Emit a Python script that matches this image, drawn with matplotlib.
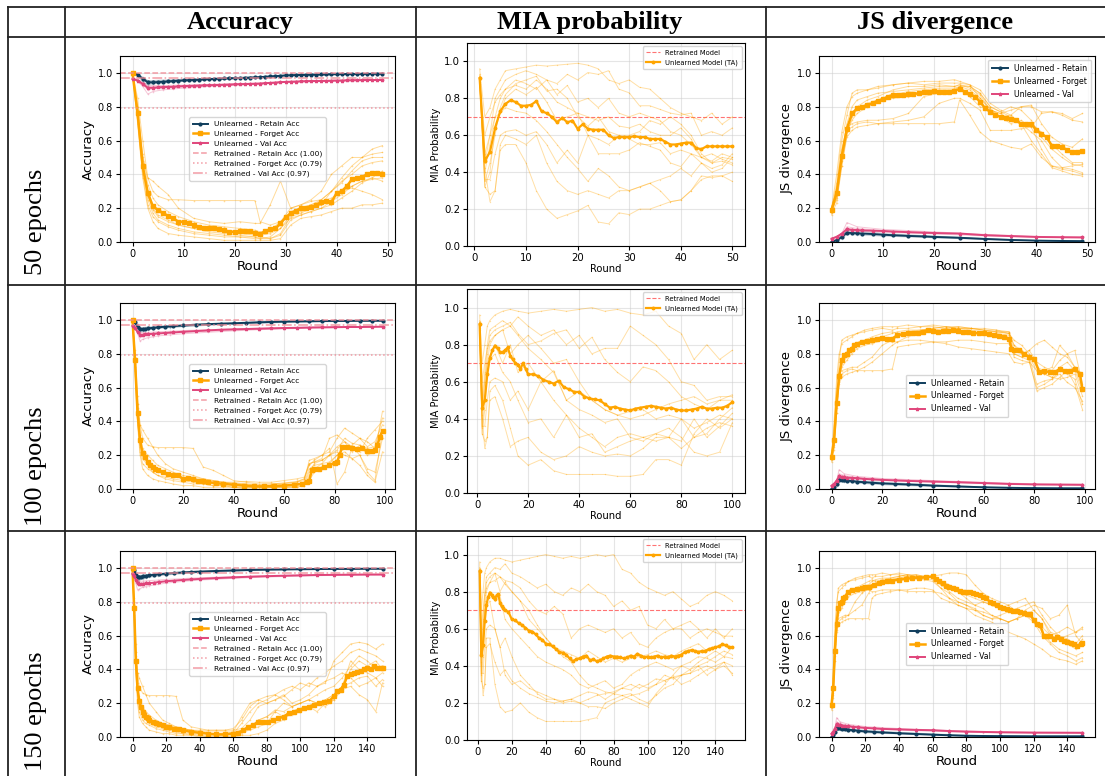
import matplotlib
matplotlib.use("Agg")
import matplotlib.pyplot as plt
from matplotlib.lines import Line2D

W, H = 1105, 776

RETAIN = "#0f3d5c"
FORGET = "#ffa500"
VAL = "#e0457b"
RETRAINED = "#f08b96"
MIA_REF = "#ff5a5a"

col_titles = ["Accuracy", "MIA probability", "JS divergence"]
row_titles = ["50 epochs", "100 epochs", "150 epochs"]

# retrained model reference values
retrained_acc = [1.00, 0.79, 0.967]
retrained_mia = 0.7

# ---------------- Accuracy, 50 epochs ----------------
acc50_rounds = list(range(50))
acc50_retain = [1.0, 0.99, 0.965, 0.945, 0.944, 0.946, 0.948, 0.95, 0.952, 0.954,
                0.956, 0.957, 0.958, 0.96, 0.962, 0.963, 0.964, 0.966, 0.967, 0.968,
                0.969, 0.97, 0.971, 0.972, 0.973, 0.975, 0.977, 0.979, 0.981, 0.983,
                0.985, 0.986, 0.987, 0.988, 0.989, 0.99, 0.99, 0.991, 0.991, 0.992,
                0.992, 0.993, 0.993, 0.993, 0.994, 0.994, 0.994, 0.995, 0.995, 0.995]
acc50_val = [0.965, 0.955, 0.935, 0.912, 0.912, 0.914, 0.916, 0.917, 0.918, 0.92,
             0.922, 0.923, 0.924, 0.925, 0.926, 0.927, 0.928, 0.929, 0.93, 0.931,
             0.932, 0.933, 0.934, 0.935, 0.936, 0.937, 0.939, 0.941, 0.943, 0.945,
             0.947, 0.948, 0.949, 0.95, 0.951, 0.952, 0.952, 0.953, 0.953, 0.954,
             0.955, 0.955, 0.956, 0.956, 0.957, 0.957, 0.958, 0.958, 0.958, 0.958]
acc50_forget = [1.0, 0.76, 0.45, 0.29, 0.21, 0.19, 0.17, 0.155, 0.14, 0.12,
                0.12, 0.11, 0.10, 0.09, 0.085, 0.085, 0.08, 0.075, 0.07, 0.06,
                0.06, 0.065, 0.065, 0.065, 0.055, 0.045, 0.065, 0.075, 0.08, 0.11,
                0.145, 0.17, 0.185, 0.20, 0.20, 0.205, 0.22, 0.235, 0.24, 0.235,
                0.29, 0.30, 0.33, 0.37, 0.38, 0.385, 0.40, 0.41, 0.41, 0.405]
acc50_band_rounds = [0, 1, 2, 3, 4, 6, 8, 10, 15, 20, 25, 30, 40, 49]
acc50_retain_runs = [
    [1.0, 0.98, 0.95, 0.93, 0.935, 0.94, 0.945, 0.95, 0.96, 0.965, 0.972, 0.983, 0.99, 0.994],
    [1.0, 0.995, 0.975, 0.955, 0.955, 0.958, 0.96, 0.963, 0.968, 0.973, 0.978, 0.987, 0.993, 0.996],
    [1.0, 0.985, 0.96, 0.94, 0.94, 0.944, 0.948, 0.952, 0.96, 0.967, 0.974, 0.984, 0.991, 0.995],
    [1.0, 0.99, 0.97, 0.95, 0.95, 0.952, 0.955, 0.958, 0.964, 0.97, 0.976, 0.986, 0.992, 0.995],
]
acc50_val_runs = [
    [0.965, 0.95, 0.92, 0.875, 0.89, 0.9, 0.905, 0.91, 0.92, 0.928, 0.934, 0.944, 0.952, 0.957],
    [0.965, 0.96, 0.945, 0.925, 0.925, 0.925, 0.927, 0.928, 0.932, 0.937, 0.94, 0.948, 0.957, 0.96],
    [0.965, 0.952, 0.93, 0.9, 0.905, 0.91, 0.913, 0.916, 0.924, 0.93, 0.936, 0.946, 0.954, 0.958],
    [0.965, 0.957, 0.94, 0.918, 0.918, 0.92, 0.922, 0.924, 0.929, 0.934, 0.938, 0.947, 0.955, 0.959],
]
acc50_run_rounds = [0, 1, 2, 3, 4, 5, 7, 9, 12, 15, 18, 21, 24, 25, 27, 29, 31, 33, 35, 37, 39, 41, 43, 45, 47, 49]
acc50_forget_runs = [
    [1.0, 0.85, 0.6, 0.38, 0.3, 0.27, 0.25, 0.25, 0.245, 0.245, 0.245, 0.245, 0.245, 0.12, 0.1, 0.12, 0.17, 0.2, 0.22, 0.24, 0.26, 0.3, 0.33, 0.36, 0.38, 0.36],
    [1.0, 0.8, 0.5, 0.38, 0.36, 0.33, 0.28, 0.2, 0.14, 0.12, 0.11, 0.12, 0.11, 0.11, 0.22, 0.36, 0.2, 0.22, 0.25, 0.3, 0.4, 0.45, 0.5, 0.5, 0.52, 0.53],
    [1.0, 0.72, 0.4, 0.22, 0.15, 0.12, 0.09, 0.07, 0.05, 0.04, 0.03, 0.03, 0.02, 0.02, 0.02, 0.05, 0.15, 0.17, 0.2, 0.22, 0.3, 0.38, 0.45, 0.5, 0.55, 0.57],
    [1.0, 0.7, 0.38, 0.2, 0.12, 0.08, 0.05, 0.04, 0.03, 0.02, 0.01, 0.01, 0.01, 0.01, 0.01, 0.02, 0.1, 0.14, 0.15, 0.16, 0.18, 0.2, 0.2, 0.22, 0.22, 0.23],
    [1.0, 0.78, 0.48, 0.3, 0.22, 0.18, 0.15, 0.12, 0.1, 0.08, 0.07, 0.06, 0.06, 0.05, 0.06, 0.1, 0.18, 0.2, 0.22, 0.25, 0.3, 0.35, 0.42, 0.48, 0.5, 0.5],
    [1.0, 0.75, 0.42, 0.25, 0.17, 0.13, 0.1, 0.08, 0.06, 0.05, 0.04, 0.03, 0.03, 0.03, 0.02, 0.04, 0.13, 0.16, 0.18, 0.2, 0.22, 0.26, 0.3, 0.35, 0.38, 0.42],
    [1.0, 0.74, 0.44, 0.27, 0.2, 0.16, 0.13, 0.1, 0.08, 0.07, 0.06, 0.05, 0.04, 0.04, 0.05, 0.08, 0.16, 0.18, 0.2, 0.22, 0.25, 0.3, 0.32, 0.3, 0.28, 0.25],
    [1.0, 0.8, 0.52, 0.34, 0.26, 0.22, 0.18, 0.15, 0.12, 0.1, 0.09, 0.08, 0.07, 0.06, 0.07, 0.12, 0.2, 0.22, 0.24, 0.25, 0.3, 0.36, 0.4, 0.45, 0.47, 0.48],
    [1.0, 0.76, 0.46, 0.28, 0.19, 0.15, 0.12, 0.1, 0.08, 0.06, 0.05, 0.04, 0.03, 0.02, 0.03, 0.08, 0.14, 0.16, 0.18, 0.2, 0.24, 0.28, 0.33, 0.36, 0.37, 0.38],
]

# ---------------- Accuracy, 100 epochs ----------------
acc100_mean_rounds = [0, 1, 2, 3, 4, 5, 6, 8, 10, 13, 16, 20, 25, 30, 35, 40, 45, 50, 55, 60, 65, 70, 75, 80, 85, 90, 95, 99]
acc100_retain = [1.0, 0.985, 0.96, 0.945, 0.945, 0.947, 0.95, 0.953, 0.956, 0.96, 0.963, 0.967, 0.972, 0.975,
                 0.978, 0.98, 0.983, 0.986, 0.988, 0.99, 0.991, 0.992, 0.993, 0.994, 0.994, 0.995, 0.995, 0.995]
acc100_val = [0.965, 0.95, 0.93, 0.912, 0.912, 0.914, 0.916, 0.918, 0.92, 0.923, 0.926, 0.93, 0.934, 0.938,
              0.942, 0.944, 0.946, 0.948, 0.95, 0.952, 0.953, 0.955, 0.956, 0.957, 0.958, 0.958, 0.959, 0.96]
acc100_forget_rounds = [0, 1, 2, 3, 4, 5, 6, 7, 8, 9, 10, 12, 14, 16, 18, 20, 22, 24, 26, 28, 30, 33, 36, 40, 44, 48,
                        52, 56, 60, 64, 67, 69, 70, 71, 72, 74, 76, 78, 80, 81, 82, 83, 85, 87, 89, 91, 93, 95, 96, 97, 98, 99]
acc100_forget = [1.0, 0.76, 0.45, 0.29, 0.21, 0.19, 0.16, 0.14, 0.13, 0.12, 0.11, 0.1, 0.09, 0.085, 0.08, 0.06,
                 0.065, 0.06, 0.05, 0.045, 0.04, 0.035, 0.03, 0.025, 0.02, 0.015, 0.015, 0.018, 0.02, 0.025, 0.03,
                 0.04, 0.05, 0.11, 0.12, 0.12, 0.13, 0.14, 0.155, 0.16, 0.2, 0.25, 0.25, 0.245, 0.235, 0.24,
                 0.225, 0.225, 0.23, 0.26, 0.31, 0.345]
acc100_band_rounds = [0, 1, 2, 3, 4, 6, 8, 10, 15, 20, 30, 40, 50, 60, 70, 80, 90, 99]
acc100_retain_runs = [
    [1.0, 0.98, 0.95, 0.93, 0.935, 0.94, 0.945, 0.95, 0.955, 0.96, 0.968, 0.975, 0.98, 0.985, 0.988, 0.99, 0.992, 0.994],
    [1.0, 0.995, 0.975, 0.955, 0.955, 0.958, 0.96, 0.963, 0.966, 0.97, 0.976, 0.982, 0.986, 0.99, 0.992, 0.994, 0.995, 0.996],
    [1.0, 0.985, 0.96, 0.94, 0.94, 0.944, 0.948, 0.952, 0.957, 0.962, 0.97, 0.977, 0.982, 0.987, 0.99, 0.992, 0.993, 0.995],
]
acc100_val_runs = [
    [0.965, 0.95, 0.92, 0.875, 0.885, 0.895, 0.9, 0.905, 0.912, 0.918, 0.927, 0.935, 0.942, 0.947, 0.951, 0.954, 0.957, 0.958],
    [0.965, 0.96, 0.945, 0.925, 0.925, 0.926, 0.928, 0.93, 0.933, 0.937, 0.942, 0.947, 0.951, 0.955, 0.957, 0.959, 0.96, 0.961],
    [0.965, 0.952, 0.93, 0.9, 0.905, 0.91, 0.913, 0.916, 0.92, 0.926, 0.934, 0.94, 0.946, 0.95, 0.954, 0.956, 0.958, 0.96],
]
acc100_run_rounds = [0, 1, 2, 3, 4, 6, 8, 10, 13, 16, 20, 24, 28, 32, 36, 40, 45, 50, 55, 60, 65, 68, 70, 72, 75, 78, 81, 84, 87, 90, 93, 96, 99]
acc100_forget_runs = [
    [1.0, 0.82, 0.55, 0.38, 0.3, 0.26, 0.25, 0.245, 0.245, 0.245, 0.245, 0.24, 0.13, 0.11, 0.08, 0.05, 0.04, 0.03, 0.03, 0.035, 0.045, 0.06, 0.14, 0.17, 0.2, 0.22, 0.3, 0.36, 0.33, 0.3, 0.25, 0.28, 0.38],
    [1.0, 0.78, 0.5, 0.38, 0.35, 0.3, 0.25, 0.2, 0.15, 0.12, 0.1, 0.08, 0.06, 0.05, 0.04, 0.03, 0.03, 0.02, 0.02, 0.03, 0.04, 0.05, 0.17, 0.18, 0.2, 0.24, 0.03, 0.1, 0.25, 0.2, 0.12, 0.1, 0.3],
    [1.0, 0.75, 0.42, 0.25, 0.18, 0.14, 0.1, 0.08, 0.07, 0.06, 0.05, 0.04, 0.03, 0.02, 0.02, 0.01, 0.01, 0.01, 0.01, 0.01, 0.02, 0.03, 0.1, 0.15, 0.17, 0.2, 0.25, 0.28, 0.22, 0.26, 0.2, 0.22, 0.46],
    [1.0, 0.7, 0.4, 0.22, 0.15, 0.12, 0.1, 0.08, 0.06, 0.05, 0.04, 0.03, 0.03, 0.02, 0.02, 0.01, 0.01, 0.01, 0.01, 0.01, 0.01, 0.02, 0.08, 0.12, 0.15, 0.2, 0.22, 0.2, 0.18, 0.2, 0.1, 0.05, 0.35],
    [1.0, 0.8, 0.5, 0.3, 0.2, 0.16, 0.14, 0.12, 0.1, 0.08, 0.06, 0.06, 0.05, 0.04, 0.04, 0.04, 0.045, 0.04, 0.04, 0.05, 0.06, 0.07, 0.15, 0.16, 0.18, 0.3, 0.32, 0.28, 0.25, 0.22, 0.3, 0.35, 0.4],
    [1.0, 0.74, 0.45, 0.28, 0.2, 0.15, 0.12, 0.1, 0.09, 0.08, 0.07, 0.05, 0.04, 0.03, 0.03, 0.03, 0.025, 0.02, 0.02, 0.02, 0.03, 0.04, 0.12, 0.14, 0.15, 0.16, 0.2, 0.24, 0.26, 0.3, 0.28, 0.24, 0.34],
    [1.0, 0.72, 0.38, 0.2, 0.12, 0.08, 0.06, 0.05, 0.04, 0.03, 0.02, 0.02, 0.01, 0.01, 0.01, 0.01, 0.0, 0.0, 0.01, 0.01, 0.01, 0.02, 0.05, 0.1, 0.12, 0.15, 0.2, 0.22, 0.18, 0.14, 0.08, 0.04, 0.22],
    [1.0, 0.78, 0.48, 0.32, 0.24, 0.2, 0.17, 0.14, 0.12, 0.1, 0.08, 0.07, 0.06, 0.05, 0.04, 0.035, 0.03, 0.025, 0.03, 0.035, 0.04, 0.06, 0.15, 0.16, 0.17, 0.2, 0.23, 0.3, 0.27, 0.26, 0.24, 0.25, 0.42],
]

# ---------------- Accuracy, 150 epochs ----------------
acc150_mean_rounds = [0, 1, 2, 3, 4, 5, 6, 8, 10, 13, 16, 20, 25, 30, 35, 40, 50, 60, 70, 80, 90, 100, 110, 120, 130, 140, 149]
acc150_retain = [1.0, 0.985, 0.96, 0.945, 0.945, 0.947, 0.95, 0.953, 0.956, 0.96, 0.963, 0.966, 0.97, 0.973,
                 0.976, 0.978, 0.982, 0.985, 0.988, 0.99, 0.991, 0.992, 0.993, 0.994, 0.994, 0.995, 0.995]
acc150_val = [0.965, 0.95, 0.93, 0.91, 0.905, 0.905, 0.906, 0.908, 0.91, 0.913, 0.917, 0.921, 0.925, 0.929,
              0.932, 0.935, 0.94, 0.944, 0.948, 0.951, 0.954, 0.956, 0.958, 0.959, 0.96, 0.961, 0.961]
acc150_forget_rounds = [0, 1, 2, 3, 4, 5, 6, 7, 8, 9, 10, 12, 14, 16, 18, 20, 22, 25, 28, 30, 35, 40, 45, 50, 55,
                        60, 63, 66, 69, 72, 75, 78, 81, 84, 87, 90, 93, 96, 99, 102, 105, 108, 111, 114, 117, 120,
                        122, 124, 126, 128, 130, 132, 134, 136, 138, 140, 142, 144, 146, 148, 149]
acc150_forget = [1.0, 0.76, 0.45, 0.29, 0.21, 0.18, 0.15, 0.13, 0.12, 0.11, 0.1, 0.09, 0.085, 0.075, 0.07, 0.06,
                 0.06, 0.05, 0.045, 0.04, 0.03, 0.025, 0.02, 0.015, 0.015, 0.02, 0.025, 0.04, 0.06, 0.07, 0.09,
                 0.09, 0.09, 0.1, 0.11, 0.12, 0.14, 0.15, 0.16, 0.17, 0.18, 0.19, 0.2, 0.205, 0.21, 0.24, 0.27,
                 0.28, 0.31, 0.36, 0.37, 0.38, 0.385, 0.39, 0.4, 0.41, 0.4, 0.42, 0.41, 0.41, 0.41]
acc150_band_rounds = [0, 1, 2, 3, 4, 6, 8, 10, 15, 20, 30, 40, 60, 80, 100, 120, 149]
acc150_retain_runs = [
    [1.0, 0.98, 0.95, 0.925, 0.93, 0.935, 0.94, 0.945, 0.952, 0.958, 0.966, 0.972, 0.98, 0.986, 0.99, 0.993, 0.994],
    [1.0, 0.995, 0.975, 0.955, 0.955, 0.958, 0.96, 0.962, 0.966, 0.97, 0.976, 0.981, 0.987, 0.991, 0.993, 0.995, 0.996],
    [1.0, 0.985, 0.96, 0.94, 0.94, 0.944, 0.948, 0.951, 0.957, 0.962, 0.97, 0.976, 0.983, 0.988, 0.991, 0.994, 0.995],
]
acc150_val_runs = [
    [0.965, 0.945, 0.91, 0.87, 0.875, 0.885, 0.89, 0.895, 0.902, 0.91, 0.92, 0.928, 0.938, 0.946, 0.952, 0.956, 0.958],
    [0.965, 0.96, 0.945, 0.925, 0.922, 0.922, 0.923, 0.925, 0.928, 0.932, 0.937, 0.942, 0.948, 0.953, 0.957, 0.96, 0.962],
    [0.965, 0.952, 0.93, 0.9, 0.9, 0.903, 0.906, 0.909, 0.914, 0.92, 0.928, 0.934, 0.943, 0.95, 0.954, 0.958, 0.96],
]
acc150_run_rounds = [0, 1, 2, 3, 4, 6, 8, 10, 14, 18, 22, 26, 30, 35, 40, 45, 50, 55, 60, 65, 70, 75, 80, 85, 90,
                     95, 100, 105, 110, 115, 120, 125, 130, 135, 140, 145, 149]
acc150_forget_runs = [
    [1.0, 0.82, 0.55, 0.38, 0.3, 0.26, 0.25, 0.245, 0.245, 0.245, 0.245, 0.24, 0.1, 0.06, 0.05, 0.04, 0.04, 0.04, 0.04, 0.05, 0.1, 0.18, 0.2, 0.22, 0.24, 0.28, 0.32, 0.3, 0.35, 0.38, 0.42, 0.45, 0.5, 0.52, 0.5, 0.48, 0.45],
    [1.0, 0.78, 0.5, 0.38, 0.35, 0.3, 0.25, 0.2, 0.15, 0.1, 0.08, 0.06, 0.05, 0.04, 0.03, 0.02, 0.02, 0.02, 0.03, 0.12, 0.2, 0.22, 0.2, 0.22, 0.25, 0.2, 0.22, 0.25, 0.3, 0.32, 0.45, 0.5, 0.55, 0.56, 0.55, 0.52, 0.55],
    [1.0, 0.75, 0.42, 0.25, 0.18, 0.12, 0.1, 0.08, 0.06, 0.05, 0.04, 0.03, 0.02, 0.02, 0.01, 0.01, 0.01, 0.01, 0.02, 0.08, 0.15, 0.2, 0.22, 0.25, 0.22, 0.18, 0.2, 0.22, 0.25, 0.28, 0.3, 0.35, 0.42, 0.48, 0.45, 0.4, 0.42],
    [1.0, 0.7, 0.4, 0.22, 0.15, 0.1, 0.08, 0.07, 0.05, 0.04, 0.03, 0.02, 0.02, 0.01, 0.01, 0.0, 0.0, 0.0, 0.01, 0.02, 0.05, 0.1, 0.12, 0.15, 0.12, 0.13, 0.15, 0.17, 0.2, 0.22, 0.25, 0.28, 0.3, 0.25, 0.22, 0.15, 0.32],
    [1.0, 0.8, 0.5, 0.3, 0.2, 0.16, 0.13, 0.11, 0.09, 0.07, 0.06, 0.05, 0.05, 0.04, 0.04, 0.04, 0.04, 0.04, 0.05, 0.1, 0.18, 0.22, 0.24, 0.25, 0.28, 0.3, 0.28, 0.32, 0.3, 0.33, 0.35, 0.38, 0.35, 0.3, 0.32, 0.35, 0.3],
    [1.0, 0.74, 0.45, 0.28, 0.2, 0.14, 0.11, 0.09, 0.07, 0.06, 0.05, 0.04, 0.03, 0.03, 0.02, 0.02, 0.02, 0.02, 0.02, 0.03, 0.04, 0.06, 0.08, 0.15, 0.2, 0.18, 0.2, 0.22, 0.2, 0.22, 0.25, 0.3, 0.45, 0.4, 0.38, 0.35, 0.38],
    [1.0, 0.72, 0.38, 0.2, 0.12, 0.08, 0.06, 0.04, 0.03, 0.02, 0.02, 0.01, 0.01, 0.01, 0.0, 0.0, 0.0, 0.0, 0.0, 0.01, 0.01, 0.02, 0.04, 0.08, 0.1, 0.15, 0.16, 0.18, 0.15, 0.2, 0.22, 0.3, 0.32, 0.35, 0.36, 0.3, 0.34],
    [1.0, 0.78, 0.48, 0.32, 0.24, 0.18, 0.15, 0.13, 0.1, 0.08, 0.07, 0.06, 0.05, 0.04, 0.035, 0.03, 0.03, 0.03, 0.03, 0.04, 0.06, 0.1, 0.12, 0.16, 0.15, 0.18, 0.2, 0.22, 0.2, 0.18, 0.22, 0.28, 0.4, 0.45, 0.42, 0.45, 0.4],
]

# ---------------- MIA, 50 epochs ----------------
mia50_rounds = list(range(1, 51))
mia50_mean = [0.91, 0.46, 0.51, 0.64, 0.73, 0.77, 0.79, 0.78, 0.76, 0.76,
              0.765, 0.785, 0.73, 0.72, 0.70, 0.67, 0.695, 0.67, 0.68, 0.635,
              0.66, 0.635, 0.63, 0.63, 0.63, 0.60, 0.585, 0.59, 0.59, 0.59,
              0.595, 0.59, 0.59, 0.58, 0.58, 0.58, 0.565, 0.55, 0.55, 0.555,
              0.56, 0.56, 0.53, 0.525, 0.54, 0.54, 0.54, 0.54, 0.54, 0.54]
mia50_run_rounds = [1, 2, 3, 4, 5, 6, 8, 10, 12, 14, 16, 18, 20, 22, 24, 26, 28, 30, 32, 34, 36, 38, 40, 42, 44, 46, 48, 50]
mia50_runs = [
    [0.96, 0.7, 0.75, 0.85, 0.9, 0.95, 0.96, 0.97, 0.98, 0.975, 0.98, 0.985, 0.99, 0.98, 0.96, 0.9, 0.88, 0.9, 0.86, 0.85, 0.8, 0.75, 0.72, 0.7, 0.68, 0.72, 0.66, 0.7],
    [0.92, 0.5, 0.6, 0.8, 0.85, 0.9, 0.93, 0.95, 0.93, 0.9, 0.88, 0.93, 0.9, 0.94, 0.93, 0.95, 0.85, 0.83, 0.76, 0.76, 0.74, 0.72, 0.71, 0.72, 0.6, 0.62, 0.6, 0.64],
    [0.9, 0.4, 0.55, 0.7, 0.8, 0.85, 0.9, 0.88, 0.85, 0.9, 0.82, 0.87, 0.78, 0.8, 0.75, 0.8, 0.72, 0.7, 0.72, 0.7, 0.68, 0.62, 0.6, 0.55, 0.48, 0.46, 0.5, 0.48],
    [0.88, 0.35, 0.45, 0.6, 0.75, 0.82, 0.88, 0.9, 0.92, 0.84, 0.85, 0.8, 0.7, 0.65, 0.7, 0.62, 0.6, 0.6, 0.62, 0.68, 0.66, 0.7, 0.66, 0.6, 0.5, 0.45, 0.46, 0.44],
    [0.91, 0.32, 0.4, 0.65, 0.72, 0.8, 0.85, 0.82, 0.86, 0.78, 0.68, 0.7, 0.72, 0.6, 0.58, 0.55, 0.6, 0.58, 0.55, 0.55, 0.56, 0.5, 0.52, 0.5, 0.48, 0.5, 0.47, 0.45],
    [0.9, 0.36, 0.36, 0.5, 0.6, 0.62, 0.63, 0.6, 0.62, 0.55, 0.45, 0.52, 0.45, 0.6, 0.5, 0.5, 0.5, 0.52, 0.56, 0.54, 0.52, 0.45, 0.43, 0.5, 0.45, 0.42, 0.44, 0.5],
    [0.92, 0.45, 0.6, 0.7, 0.72, 0.75, 0.73, 0.72, 0.68, 0.62, 0.55, 0.48, 0.42, 0.35, 0.42, 0.38, 0.32, 0.3, 0.32, 0.34, 0.36, 0.38, 0.42, 0.38, 0.45, 0.4, 0.42, 0.48],
    [0.9, 0.42, 0.24, 0.3, 0.55, 0.6, 0.58, 0.55, 0.6, 0.45, 0.35, 0.3, 0.28, 0.3, 0.28, 0.26, 0.3, 0.3, 0.32, 0.34, 0.3, 0.24, 0.25, 0.3, 0.36, 0.38, 0.38, 0.35],
    [0.93, 0.32, 0.28, 0.3, 0.52, 0.55, 0.55, 0.45, 0.3, 0.2, 0.15, 0.17, 0.19, 0.22, 0.13, 0.12, 0.18, 0.17, 0.2, 0.2, 0.22, 0.24, 0.25, 0.3, 0.38, 0.37, 0.38, 0.4],
    [0.89, 0.6, 0.7, 0.78, 0.82, 0.85, 0.87, 0.85, 0.9, 0.85, 0.78, 0.75, 0.72, 0.7, 0.68, 0.7, 0.65, 0.64, 0.66, 0.62, 0.6, 0.6, 0.64, 0.58, 0.48, 0.45, 0.48, 0.47],
]

# ---------------- MIA, 100 epochs ----------------
mia100_rounds = list(range(1, 21)) + list(range(22, 101, 2))
mia100_mean = [0.91, 0.46, 0.5, 0.64, 0.73, 0.77, 0.795, 0.78, 0.76, 0.76,
               0.77, 0.785, 0.74, 0.72, 0.70, 0.69, 0.67, 0.70, 0.67, 0.64,
               0.64, 0.63, 0.61, 0.60, 0.59, 0.605, 0.57, 0.56, 0.545, 0.545,
               0.52, 0.51, 0.505, 0.50, 0.48, 0.46, 0.465, 0.455, 0.45, 0.445,
               0.455, 0.46, 0.465, 0.47, 0.465, 0.46, 0.455, 0.46, 0.45, 0.445,
               0.445, 0.45, 0.455, 0.465, 0.455, 0.455, 0.46, 0.46, 0.47, 0.49]
mia100_run_rounds = [1, 2, 3, 4, 5, 7, 10, 13, 16, 20, 25, 30, 35, 40, 45, 50, 55, 60, 65, 70, 75, 80, 85, 90, 95, 100]
mia100_runs = [
    [0.96, 0.7, 0.8, 0.9, 0.93, 0.96, 0.98, 0.99, 0.98, 0.97, 0.98, 0.99, 0.98, 0.99, 1.0, 0.98, 0.99, 0.97, 0.96, 0.98, 0.9, 0.86, 0.72, 0.8, 0.72, 0.77],
    [0.92, 0.5, 0.65, 0.8, 0.88, 0.9, 0.93, 0.9, 0.95, 0.9, 0.85, 0.88, 0.8, 0.85, 0.75, 0.78, 0.78, 0.9, 0.85, 0.8, 0.72, 0.6, 0.58, 0.5, 0.52, 0.52],
    [0.9, 0.4, 0.6, 0.75, 0.85, 0.88, 0.9, 0.92, 0.86, 0.8, 0.82, 0.86, 0.88, 0.78, 0.84, 0.72, 0.65, 0.6, 0.68, 0.66, 0.6, 0.52, 0.48, 0.45, 0.5, 0.53],
    [0.88, 0.35, 0.5, 0.7, 0.8, 0.85, 0.88, 0.75, 0.8, 0.85, 0.78, 0.7, 0.72, 0.6, 0.5, 0.45, 0.42, 0.4, 0.42, 0.45, 0.48, 0.5, 0.52, 0.48, 0.5, 0.5],
    [0.91, 0.32, 0.45, 0.65, 0.72, 0.8, 0.7, 0.8, 0.65, 0.7, 0.6, 0.66, 0.5, 0.55, 0.5, 0.45, 0.42, 0.44, 0.45, 0.4, 0.42, 0.4, 0.3, 0.32, 0.4, 0.46],
    [0.9, 0.36, 0.36, 0.5, 0.6, 0.62, 0.6, 0.5, 0.55, 0.45, 0.6, 0.5, 0.42, 0.35, 0.3, 0.25, 0.3, 0.32, 0.3, 0.28, 0.3, 0.4, 0.35, 0.38, 0.42, 0.4],
    [0.92, 0.45, 0.6, 0.7, 0.72, 0.75, 0.65, 0.6, 0.5, 0.38, 0.4, 0.3, 0.42, 0.3, 0.32, 0.22, 0.25, 0.28, 0.3, 0.32, 0.35, 0.3, 0.22, 0.2, 0.22, 0.38],
    [0.9, 0.42, 0.24, 0.3, 0.55, 0.58, 0.5, 0.35, 0.2, 0.15, 0.18, 0.12, 0.1, 0.1, 0.1, 0.1, 0.09, 0.09, 0.1, 0.18, 0.18, 0.15, 0.32, 0.4, 0.35, 0.4],
    [0.93, 0.32, 0.28, 0.3, 0.5, 0.52, 0.4, 0.25, 0.28, 0.3, 0.22, 0.18, 0.2, 0.25, 0.22, 0.2, 0.21, 0.2, 0.24, 0.3, 0.3, 0.28, 0.4, 0.3, 0.36, 0.43],
    [0.89, 0.6, 0.7, 0.78, 0.82, 0.85, 0.88, 0.9, 0.85, 0.78, 0.72, 0.65, 0.5, 0.45, 0.42, 0.38, 0.4, 0.3, 0.28, 0.32, 0.3, 0.24, 0.3, 0.35, 0.38, 0.36],
]

# ---------------- MIA, 150 epochs ----------------
mia150_rounds = list(range(1, 17)) + list(range(18, 151, 2))
mia150_mean = [0.91, 0.46, 0.51, 0.64, 0.73, 0.77, 0.795, 0.78, 0.77, 0.76, 0.78, 0.785, 0.74, 0.72, 0.71, 0.70,
               0.69, 0.65, 0.645, 0.63, 0.62, 0.605, 0.59, 0.585, 0.57, 0.55,
               0.54, 0.52, 0.515, 0.505, 0.49, 0.475, 0.47, 0.46, 0.44, 0.425,
               0.435, 0.44, 0.45, 0.455, 0.43, 0.435, 0.425, 0.43, 0.44, 0.45,
               0.455, 0.45, 0.45, 0.445, 0.44, 0.445, 0.455, 0.45, 0.465, 0.455,
               0.445, 0.45, 0.445, 0.45, 0.455, 0.445, 0.45, 0.445, 0.455, 0.45,
               0.455, 0.46, 0.475, 0.48, 0.485, 0.48, 0.475, 0.48, 0.48, 0.49,
               0.495, 0.5, 0.505, 0.515, 0.51, 0.5, 0.5]
mia150_run_rounds = [1, 2, 3, 4, 5, 7, 10, 13, 16, 20, 25, 30, 35, 40, 45, 50, 55, 60, 65, 70, 75, 80, 85, 90,
                     95, 100, 105, 110, 115, 120, 125, 130, 135, 140, 145, 150]
mia150_runs = [
    [0.96, 0.7, 0.8, 0.9, 0.93, 0.96, 0.98, 0.98, 0.97, 0.96, 0.97, 0.98, 0.99, 1.0, 0.99, 0.98, 0.99, 0.98, 0.99, 1.0, 0.99, 1.0, 0.92, 0.9, 0.85, 0.82, 0.8, 0.78, 0.8, 0.76, 0.72, 0.74, 0.78, 0.8, 0.78, 0.75],
    [0.92, 0.5, 0.65, 0.8, 0.88, 0.9, 0.93, 0.92, 0.95, 0.9, 0.88, 0.85, 0.82, 0.84, 0.8, 0.78, 0.82, 0.8, 0.84, 0.8, 0.78, 0.72, 0.75, 0.7, 0.72, 0.62, 0.6, 0.65, 0.6, 0.6, 0.55, 0.58, 0.6, 0.58, 0.56, 0.56],
    [0.9, 0.4, 0.6, 0.75, 0.85, 0.88, 0.9, 0.88, 0.86, 0.85, 0.82, 0.75, 0.7, 0.68, 0.72, 0.68, 0.55, 0.6, 0.62, 0.6, 0.58, 0.6, 0.55, 0.58, 0.52, 0.5, 0.55, 0.58, 0.6, 0.62, 0.64, 0.6, 0.55, 0.6, 0.55, 0.6],
    [0.88, 0.35, 0.5, 0.7, 0.8, 0.85, 0.9, 0.8, 0.85, 0.8, 0.75, 0.7, 0.62, 0.55, 0.5, 0.48, 0.46, 0.44, 0.48, 0.45, 0.42, 0.44, 0.42, 0.44, 0.45, 0.46, 0.48, 0.46, 0.45, 0.48, 0.5, 0.52, 0.48, 0.5, 0.52, 0.5],
    [0.91, 0.32, 0.45, 0.65, 0.72, 0.8, 0.75, 0.78, 0.65, 0.6, 0.55, 0.5, 0.45, 0.42, 0.4, 0.38, 0.35, 0.3, 0.28, 0.3, 0.32, 0.28, 0.3, 0.35, 0.38, 0.4, 0.42, 0.4, 0.38, 0.4, 0.42, 0.45, 0.44, 0.42, 0.45, 0.44],
    [0.9, 0.36, 0.36, 0.5, 0.6, 0.62, 0.6, 0.5, 0.55, 0.45, 0.35, 0.3, 0.25, 0.22, 0.22, 0.21, 0.22, 0.24, 0.26, 0.25, 0.22, 0.25, 0.28, 0.27, 0.3, 0.28, 0.3, 0.35, 0.33, 0.35, 0.36, 0.4, 0.42, 0.45, 0.48, 0.46],
    [0.92, 0.45, 0.6, 0.7, 0.72, 0.75, 0.6, 0.5, 0.35, 0.3, 0.32, 0.28, 0.26, 0.24, 0.22, 0.2, 0.21, 0.2, 0.18, 0.18, 0.17, 0.2, 0.22, 0.24, 0.25, 0.27, 0.3, 0.32, 0.34, 0.35, 0.36, 0.38, 0.4, 0.38, 0.4, 0.36],
    [0.9, 0.42, 0.24, 0.3, 0.55, 0.55, 0.3, 0.18, 0.15, 0.16, 0.2, 0.15, 0.12, 0.1, 0.1, 0.1, 0.1, 0.1, 0.11, 0.12, 0.2, 0.22, 0.24, 0.25, 0.22, 0.2, 0.24, 0.28, 0.3, 0.35, 0.38, 0.4, 0.35, 0.38, 0.42, 0.4],
    [0.93, 0.32, 0.28, 0.3, 0.5, 0.52, 0.42, 0.35, 0.38, 0.32, 0.28, 0.25, 0.23, 0.21, 0.2, 0.21, 0.22, 0.2, 0.22, 0.24, 0.25, 0.26, 0.28, 0.3, 0.28, 0.3, 0.33, 0.32, 0.34, 0.3, 0.32, 0.35, 0.38, 0.4, 0.42, 0.35],
    [0.89, 0.6, 0.7, 0.78, 0.82, 0.85, 0.86, 0.88, 0.84, 0.8, 0.75, 0.65, 0.6, 0.55, 0.5, 0.45, 0.42, 0.35, 0.3, 0.28, 0.26, 0.25, 0.24, 0.22, 0.2, 0.18, 0.25, 0.3, 0.35, 0.4, 0.38, 0.42, 0.45, 0.48, 0.45, 0.5],
]

# ---------------- JS divergence, 50 epochs ----------------
js50_forget_rounds = list(range(50))
js50_forget = [0.19, 0.29, 0.51, 0.67, 0.76, 0.79, 0.80, 0.81, 0.82, 0.835,
               0.845, 0.86, 0.87, 0.87, 0.87, 0.875, 0.875, 0.88, 0.885, 0.89,
               0.895, 0.89, 0.89, 0.89, 0.895, 0.905, 0.89, 0.875, 0.86, 0.83,
               0.79, 0.77, 0.75, 0.74, 0.735, 0.73, 0.72, 0.70, 0.70, 0.70,
               0.66, 0.64, 0.62, 0.57, 0.565, 0.56, 0.545, 0.53, 0.535, 0.54]
js50_mean_rounds = [0, 1, 2, 3, 4, 5, 6, 8, 10, 12, 15, 18, 20, 25, 30, 35, 40, 45, 49]
js50_retain = [0.0, 0.01, 0.03, 0.055, 0.053, 0.051, 0.05, 0.047, 0.043, 0.04, 0.036, 0.033, 0.03, 0.025, 0.018, 0.012, 0.008, 0.006, 0.005]
js50_val = [0.02, 0.03, 0.05, 0.075, 0.073, 0.07, 0.069, 0.067, 0.065, 0.062, 0.058, 0.055, 0.053, 0.05, 0.04, 0.035, 0.03, 0.028, 0.027]
js50_band_rounds = [0, 2, 3, 5, 10, 20, 30, 40, 49]
js50_retain_runs = [
    [0.0, 0.02, 0.045, 0.042, 0.035, 0.025, 0.015, 0.007, 0.004],
    [0.0, 0.04, 0.07, 0.065, 0.05, 0.035, 0.02, 0.01, 0.006],
    [0.0, 0.03, 0.06, 0.055, 0.045, 0.03, 0.018, 0.008, 0.005],
]
js50_val_runs = [
    [0.02, 0.05, 0.115, 0.09, 0.075, 0.06, 0.045, 0.033, 0.03],
    [0.02, 0.04, 0.065, 0.062, 0.058, 0.048, 0.036, 0.028, 0.025],
    [0.02, 0.045, 0.09, 0.08, 0.068, 0.055, 0.042, 0.03, 0.027],
]
js50_run_rounds = [0, 1, 2, 3, 4, 5, 7, 9, 12, 15, 18, 21, 24, 25, 27, 29, 31, 33, 35, 37, 39, 41, 43, 45, 47, 49]
js50_forget_runs = [
    [0.17, 0.23, 0.45, 0.62, 0.66, 0.68, 0.69, 0.7, 0.7, 0.7, 0.7, 0.7, 0.71, 0.84, 0.75, 0.65, 0.6, 0.58, 0.56, 0.55, 0.58, 0.5, 0.45, 0.43, 0.42, 0.4],
    [0.2, 0.3, 0.55, 0.68, 0.7, 0.71, 0.72, 0.72, 0.73, 0.76, 0.86, 0.88, 0.9, 0.9, 0.86, 0.8, 0.78, 0.76, 0.78, 0.8, 0.8, 0.77, 0.77, 0.76, 0.73, 0.76],
    [0.18, 0.35, 0.6, 0.75, 0.88, 0.9, 0.9, 0.91, 0.93, 0.94, 0.95, 0.95, 0.96, 0.95, 0.93, 0.85, 0.78, 0.76, 0.72, 0.7, 0.6, 0.52, 0.44, 0.42, 0.4, 0.39],
    [0.2, 0.4, 0.65, 0.8, 0.86, 0.88, 0.9, 0.92, 0.93, 0.94, 0.93, 0.94, 0.94, 0.94, 0.93, 0.9, 0.82, 0.78, 0.75, 0.7, 0.65, 0.6, 0.5, 0.44, 0.43, 0.41],
    [0.16, 0.28, 0.5, 0.68, 0.75, 0.8, 0.84, 0.86, 0.9, 0.92, 0.92, 0.93, 0.92, 0.93, 0.92, 0.88, 0.8, 0.77, 0.8, 0.78, 0.72, 0.62, 0.55, 0.5, 0.46, 0.45],
    [0.19, 0.25, 0.45, 0.65, 0.72, 0.76, 0.8, 0.83, 0.85, 0.86, 0.88, 0.9, 0.9, 0.92, 0.9, 0.85, 0.79, 0.74, 0.75, 0.8, 0.81, 0.7, 0.62, 0.58, 0.56, 0.61],
    [0.2, 0.3, 0.5, 0.66, 0.68, 0.7, 0.71, 0.7, 0.71, 0.72, 0.74, 0.82, 0.85, 0.85, 0.82, 0.78, 0.66, 0.66, 0.66, 0.67, 0.68, 0.76, 0.77, 0.75, 0.72, 0.71],
    [0.18, 0.26, 0.48, 0.63, 0.74, 0.78, 0.82, 0.84, 0.87, 0.89, 0.9, 0.91, 0.91, 0.92, 0.92, 0.88, 0.8, 0.77, 0.74, 0.7, 0.7, 0.65, 0.58, 0.52, 0.47, 0.47],
    [0.2, 0.32, 0.52, 0.7, 0.8, 0.84, 0.86, 0.88, 0.89, 0.9, 0.91, 0.92, 0.92, 0.93, 0.91, 0.87, 0.78, 0.74, 0.7, 0.72, 0.68, 0.55, 0.45, 0.44, 0.45, 0.46],
]

# ---------------- JS divergence, 100 epochs ----------------
js100_forget_rounds = list(range(0, 11)) + list(range(12, 71, 2)) + [71, 72] + list(range(74, 99, 2)) + [99]
js100_forget = [0.19, 0.29, 0.51, 0.67, 0.76, 0.79, 0.80, 0.82, 0.83, 0.85, 0.86,
                0.87, 0.875, 0.88, 0.89, 0.895, 0.885, 0.89, 0.91, 0.915, 0.92,
                0.925, 0.925, 0.93, 0.94, 0.935, 0.93, 0.935, 0.935, 0.94, 0.935,
                0.93, 0.93, 0.925, 0.92, 0.92, 0.915, 0.91, 0.905, 0.90, 0.89,
                0.83, 0.825,
                0.82, 0.80, 0.78, 0.77, 0.69, 0.70, 0.69, 0.69, 0.71, 0.70, 0.70, 0.71, 0.68,
                0.59]
js100_mean_rounds = [0, 1, 2, 3, 4, 5, 6, 8, 10, 13, 16, 20, 25, 30, 35, 40, 50, 60, 70, 80, 90, 99]
js100_retain = [0.0, 0.01, 0.03, 0.055, 0.055, 0.052, 0.05, 0.047, 0.043, 0.04, 0.037, 0.033, 0.03, 0.027, 0.024, 0.02, 0.015, 0.01, 0.007, 0.005, 0.004, 0.004]
js100_val = [0.02, 0.03, 0.05, 0.075, 0.073, 0.07, 0.068, 0.066, 0.064, 0.06, 0.057, 0.054, 0.051, 0.048, 0.046, 0.044, 0.04, 0.035, 0.03, 0.027, 0.026, 0.025]
js100_band_rounds = [0, 2, 3, 5, 10, 20, 40, 60, 80, 99]
js100_retain_runs = [
    [0.0, 0.02, 0.045, 0.042, 0.035, 0.025, 0.015, 0.008, 0.004, 0.003],
    [0.0, 0.04, 0.07, 0.065, 0.05, 0.04, 0.025, 0.012, 0.007, 0.005],
    [0.0, 0.03, 0.06, 0.055, 0.045, 0.032, 0.02, 0.01, 0.006, 0.004],
]
js100_val_runs = [
    [0.02, 0.05, 0.115, 0.09, 0.075, 0.062, 0.05, 0.04, 0.03, 0.028],
    [0.02, 0.04, 0.065, 0.062, 0.058, 0.05, 0.04, 0.032, 0.025, 0.022],
    [0.02, 0.045, 0.09, 0.08, 0.068, 0.056, 0.046, 0.036, 0.028, 0.025],
]
js100_run_rounds = [0, 1, 2, 3, 4, 6, 8, 10, 13, 16, 20, 24, 26, 30, 35, 40, 45, 50, 55, 60, 65, 70, 72, 75, 78, 81, 84, 87, 90, 93, 96, 99]
js100_forget_runs = [
    [0.17, 0.23, 0.45, 0.62, 0.66, 0.68, 0.69, 0.7, 0.7, 0.7, 0.7, 0.71, 0.84, 0.85, 0.86, 0.87, 0.87, 0.88, 0.88, 0.87, 0.86, 0.86, 0.8, 0.78, 0.82, 0.86, 0.88, 0.84, 0.8, 0.78, 0.72, 0.6],
    [0.2, 0.3, 0.55, 0.68, 0.7, 0.71, 0.72, 0.72, 0.75, 0.78, 0.85, 0.88, 0.9, 0.92, 0.93, 0.94, 0.95, 0.94, 0.93, 0.92, 0.92, 0.91, 0.78, 0.76, 0.75, 0.6, 0.62, 0.65, 0.7, 0.68, 0.65, 0.5],
    [0.18, 0.35, 0.6, 0.75, 0.88, 0.9, 0.91, 0.92, 0.94, 0.95, 0.96, 0.96, 0.96, 0.97, 0.96, 0.97, 0.96, 0.96, 0.95, 0.95, 0.94, 0.92, 0.88, 0.85, 0.8, 0.72, 0.7, 0.72, 0.85, 0.8, 0.82, 0.62],
    [0.2, 0.4, 0.65, 0.8, 0.86, 0.88, 0.9, 0.92, 0.93, 0.94, 0.95, 0.94, 0.95, 0.95, 0.96, 0.96, 0.95, 0.96, 0.95, 0.94, 0.93, 0.93, 0.85, 0.82, 0.78, 0.7, 0.68, 0.66, 0.65, 0.66, 0.68, 0.55],
    [0.16, 0.28, 0.5, 0.68, 0.75, 0.8, 0.84, 0.86, 0.88, 0.9, 0.92, 0.93, 0.92, 0.93, 0.94, 0.95, 0.96, 0.95, 0.94, 0.93, 0.93, 0.92, 0.8, 0.78, 0.76, 0.58, 0.6, 0.62, 0.66, 0.7, 0.62, 0.47],
    [0.19, 0.25, 0.45, 0.65, 0.72, 0.76, 0.8, 0.83, 0.85, 0.86, 0.88, 0.87, 0.87, 0.88, 0.88, 0.87, 0.86, 0.84, 0.83, 0.82, 0.81, 0.8, 0.75, 0.74, 0.75, 0.7, 0.68, 0.66, 0.72, 0.75, 0.7, 0.58],
    [0.2, 0.3, 0.5, 0.66, 0.68, 0.7, 0.71, 0.7, 0.72, 0.75, 0.8, 0.85, 0.87, 0.9, 0.92, 0.93, 0.94, 0.95, 0.95, 0.94, 0.93, 0.92, 0.85, 0.8, 0.82, 0.75, 0.72, 0.7, 0.76, 0.8, 0.72, 0.68],
    [0.18, 0.26, 0.48, 0.63, 0.74, 0.78, 0.82, 0.85, 0.87, 0.89, 0.9, 0.92, 0.93, 0.94, 0.94, 0.95, 0.96, 0.95, 0.95, 0.94, 0.94, 0.93, 0.82, 0.8, 0.78, 0.62, 0.64, 0.65, 0.68, 0.63, 0.6, 0.52],
]

# ---------------- JS divergence, 150 epochs ----------------
js150_forget_rounds = [0, 1, 2, 3, 4, 5, 6, 7, 8, 10, 12, 15, 18, 20, 22, 25, 28, 30, 33, 36,
                       40, 44, 48, 52, 56, 60] + list(range(62, 149, 2)) + [149]
js150_forget = [0.19, 0.29, 0.51, 0.67, 0.76, 0.79, 0.80, 0.82, 0.83,
                0.86, 0.87, 0.875, 0.88, 0.885, 0.89, 0.9, 0.91, 0.915, 0.92, 0.925,
                0.93, 0.935, 0.94, 0.94, 0.945, 0.95,
                0.935, 0.92, 0.91, 0.895, 0.89, 0.88, 0.875, 0.865, 0.86, 0.86,
                0.855, 0.85, 0.845, 0.84, 0.83, 0.82, 0.8, 0.79, 0.78, 0.77,
                0.76, 0.755, 0.75, 0.745, 0.745, 0.74, 0.735, 0.73, 0.73, 0.69,
                0.67, 0.66, 0.6, 0.6, 0.6, 0.58, 0.59, 0.58, 0.57, 0.56,
                0.555, 0.55, 0.54, 0.55,
                0.555]
js150_mean_rounds = [0, 1, 2, 3, 4, 5, 6, 8, 10, 13, 16, 20, 25, 30, 40, 50, 60, 70, 80, 100, 120, 149]
js150_retain = [0.0, 0.01, 0.03, 0.055, 0.055, 0.052, 0.05, 0.047, 0.043, 0.04, 0.037, 0.033, 0.03, 0.027, 0.022, 0.018, 0.014, 0.01, 0.007, 0.005, 0.004, 0.004]
js150_val = [0.02, 0.03, 0.05, 0.075, 0.073, 0.07, 0.068, 0.066, 0.064, 0.06, 0.057, 0.054, 0.051, 0.048, 0.045, 0.042, 0.04, 0.035, 0.032, 0.028, 0.026, 0.025]
js150_band_rounds = [0, 2, 3, 5, 10, 20, 40, 60, 90, 120, 149]
js150_retain_runs = [
    [0.0, 0.02, 0.045, 0.042, 0.035, 0.025, 0.018, 0.01, 0.005, 0.003, 0.003],
    [0.0, 0.04, 0.07, 0.065, 0.05, 0.04, 0.028, 0.018, 0.008, 0.005, 0.005],
    [0.0, 0.03, 0.06, 0.055, 0.045, 0.032, 0.022, 0.014, 0.006, 0.004, 0.004],
]
js150_val_runs = [
    [0.02, 0.05, 0.115, 0.09, 0.075, 0.062, 0.05, 0.042, 0.032, 0.028, 0.027],
    [0.02, 0.04, 0.065, 0.062, 0.058, 0.05, 0.04, 0.034, 0.026, 0.023, 0.022],
    [0.02, 0.045, 0.09, 0.08, 0.068, 0.056, 0.046, 0.038, 0.029, 0.025, 0.025],
]
js150_run_rounds = [0, 1, 2, 3, 4, 6, 8, 10, 14, 18, 22, 24, 26, 30, 35, 40, 45, 50, 55, 60, 65, 70, 75, 80,
                    85, 90, 95, 100, 105, 110, 115, 120, 125, 130, 135, 140, 145, 149]
js150_forget_runs = [
    [0.17, 0.23, 0.45, 0.62, 0.66, 0.68, 0.69, 0.7, 0.7, 0.7, 0.7, 0.82, 0.84, 0.85, 0.86, 0.87, 0.87, 0.88, 0.88, 0.87, 0.82, 0.8, 0.78, 0.76, 0.75, 0.74, 0.72, 0.7, 0.68, 0.7, 0.75, 0.78, 0.76, 0.7, 0.72, 0.78, 0.6, 0.55],
    [0.2, 0.3, 0.55, 0.68, 0.7, 0.71, 0.72, 0.72, 0.75, 0.78, 0.85, 0.88, 0.9, 0.92, 0.93, 0.94, 0.95, 0.94, 0.93, 0.92, 0.88, 0.82, 0.78, 0.76, 0.72, 0.7, 0.68, 0.65, 0.62, 0.6, 0.58, 0.55, 0.52, 0.48, 0.46, 0.45, 0.43, 0.45],
    [0.18, 0.35, 0.6, 0.75, 0.88, 0.9, 0.91, 0.92, 0.94, 0.95, 0.96, 0.96, 0.96, 0.97, 0.96, 0.97, 0.96, 0.96, 0.95, 0.95, 0.96, 0.97, 0.97, 0.96, 0.9, 0.85, 0.82, 0.8, 0.78, 0.8, 0.82, 0.75, 0.7, 0.6, 0.58, 0.6, 0.62, 0.65],
    [0.2, 0.4, 0.65, 0.8, 0.86, 0.88, 0.9, 0.92, 0.93, 0.94, 0.95, 0.94, 0.95, 0.95, 0.96, 0.96, 0.95, 0.96, 0.95, 0.94, 0.9, 0.88, 0.86, 0.84, 0.82, 0.8, 0.78, 0.76, 0.78, 0.74, 0.72, 0.7, 0.62, 0.56, 0.52, 0.5, 0.48, 0.5],
    [0.16, 0.28, 0.5, 0.68, 0.75, 0.8, 0.84, 0.86, 0.88, 0.9, 0.92, 0.93, 0.92, 0.93, 0.94, 0.95, 0.96, 0.95, 0.94, 0.93, 0.88, 0.85, 0.8, 0.78, 0.76, 0.72, 0.7, 0.72, 0.74, 0.76, 0.78, 0.8, 0.72, 0.65, 0.6, 0.55, 0.52, 0.58],
    [0.19, 0.25, 0.45, 0.65, 0.72, 0.76, 0.8, 0.83, 0.85, 0.86, 0.87, 0.86, 0.86, 0.87, 0.87, 0.87, 0.86, 0.86, 0.86, 0.86, 0.85, 0.82, 0.8, 0.78, 0.75, 0.72, 0.7, 0.7, 0.68, 0.7, 0.72, 0.75, 0.7, 0.62, 0.6, 0.58, 0.55, 0.6],
    [0.2, 0.3, 0.5, 0.66, 0.68, 0.7, 0.71, 0.72, 0.8, 0.85, 0.88, 0.9, 0.91, 0.92, 0.93, 0.94, 0.95, 0.95, 0.95, 0.94, 0.9, 0.86, 0.82, 0.8, 0.78, 0.8, 0.78, 0.76, 0.75, 0.74, 0.72, 0.7, 0.65, 0.6, 0.62, 0.65, 0.62, 0.64],
    [0.18, 0.26, 0.48, 0.63, 0.74, 0.78, 0.82, 0.85, 0.87, 0.89, 0.9, 0.92, 0.93, 0.94, 0.94, 0.95, 0.96, 0.95, 0.95, 0.94, 0.92, 0.9, 0.86, 0.82, 0.78, 0.76, 0.72, 0.7, 0.68, 0.7, 0.72, 0.68, 0.6, 0.55, 0.5, 0.48, 0.45, 0.47],
]


def px_axes(fig, left, top, right, bottom):
    return fig.add_axes([left / W, 1 - bottom / H, (right - left) / W, (bottom - top) / H])


def thin_lines(ax, x, runs, color, alpha=0.3, lw=0.7, ms=1.2):
    for r in runs:
        ax.plot(x, r, color=color, lw=lw, alpha=alpha, marker="o", ms=ms, mew=0)


def style_axes(ax, xlabel, ylabel, label_size, tick_size):
    ax.set_ylim(0, 1.1)
    ax.set_yticks([0.0, 0.2, 0.4, 0.6, 0.8, 1.0])
    ax.set_xlabel(xlabel, fontsize=label_size, labelpad=1)
    ax.set_ylabel(ylabel, fontsize=label_size, labelpad=2)
    ax.tick_params(labelsize=tick_size, length=3, pad=2)
    ax.grid(True, color="#cccccc", alpha=0.5, lw=0.8)


def acc_panel(ax, band_x, retain_runs, val_runs, run_x, forget_runs,
              mean_x, retain, val, forget_x, forget):
    thin_lines(ax, band_x, retain_runs, RETAIN, alpha=0.25)
    thin_lines(ax, band_x, val_runs, VAL, alpha=0.3)
    thin_lines(ax, run_x, forget_runs, FORGET, alpha=0.4)
    ax.plot(mean_x, retain, color=RETAIN, lw=1.4, marker="o", ms=2, label="Unlearned - Retain Acc")
    ax.plot(forget_x, forget, color=FORGET, lw=1.8, marker="s", ms=2.4, label="Unlearned - Forget Acc")
    ax.plot(mean_x, val, color=VAL, lw=1.4, marker="*", ms=2.5, label="Unlearned - Val Acc")
    names = ["Retain", "Forget", "Val"]
    styles = ["--", ":", "-."]
    for v, n, s in zip(retrained_acc, names, styles):
        ax.axhline(v, color=RETRAINED, ls=s, lw=1.1, alpha=0.85,
                   label=f"Retrained - {n} Acc ({v:.2f})")
    style_axes(ax, "Round", "Accuracy", 9.5, 7)
    ax.legend(loc="center", fontsize=5.4, borderpad=0.5, labelspacing=0.45)


def mia_panel(ax, run_x, runs, mean_x, mean):
    ax.axhline(retrained_mia, color=MIA_REF, ls="--", lw=0.8, alpha=0.85, label="Retrained Model")
    thin_lines(ax, run_x, runs, FORGET, alpha=0.35, lw=0.7, ms=1)
    ax.plot(mean_x, mean, color=FORGET, lw=1.6, marker="o", ms=1.8, label="Unlearned Model (TA)")
    style_axes(ax, "Round", "MIA Probability", 7.2, 7.3)
    ax.legend(loc="upper right", fontsize=4.9, borderpad=0.5)


def js_panel(ax, run_x, forget_runs, band_x, retain_runs, val_runs,
             forget_x, forget, mean_x, retain, val, legend_loc):
    thin_lines(ax, run_x, forget_runs, FORGET, alpha=0.4)
    thin_lines(ax, band_x, retain_runs, RETAIN, alpha=0.25)
    thin_lines(ax, band_x, val_runs, VAL, alpha=0.3)
    ax.plot(mean_x, retain, color=RETAIN, lw=1.4, marker="o", ms=2, label="Unlearned - Retain")
    ax.plot(forget_x, forget, color=FORGET, lw=1.8, marker="s", ms=2.4, label="Unlearned - Forget")
    ax.plot(mean_x, val, color=VAL, lw=1.4, marker="*", ms=2.5, label="Unlearned - Val")
    style_axes(ax, "Round", "JS divergence", 9.5, 7)
    ax.legend(loc=legend_loc, fontsize=5.6, borderpad=0.5)


fig = plt.figure(figsize=(W / 100, H / 100), dpi=100)
fig.patch.set_facecolor("white")

# table grid
for y in [7, 37, 285, 531]:
    fig.add_artist(Line2D([8 / W, 1.0], [1 - y / H, 1 - y / H], color="#222222", lw=1.3))
for x in [8, 65, 416, 766]:
    fig.add_artist(Line2D([x / W, x / W], [1 - 7 / H, 0.0], color="#222222", lw=1.3))

for title, xc in zip(col_titles, [240, 590, 935]):
    fig.text(xc / W, 1 - 22 / H, title, ha="center", va="center",
             family="Liberation Serif", weight="bold", fontsize=19)
for title, yc in zip(row_titles, [222, 466, 711]):
    fig.text(36 / W, 1 - yc / H, title, ha="center", va="center", rotation=90,
             family="Liberation Serif", fontsize=19)

tops = [56, 303, 551]
bottoms = [242, 489, 737]
mia_tops = [43, 289, 536]
mia_bottoms = [246, 493, 740]

# accuracy column
ax = px_axes(fig, 120, tops[0], 395, bottoms[0])
acc_panel(ax, acc50_band_rounds, acc50_retain_runs, acc50_val_runs, acc50_run_rounds, acc50_forget_runs,
          acc50_rounds, acc50_retain, acc50_val, acc50_rounds, acc50_forget)
ax = px_axes(fig, 120, tops[1], 395, bottoms[1])
acc_panel(ax, acc100_band_rounds, acc100_retain_runs, acc100_val_runs, acc100_run_rounds, acc100_forget_runs,
          acc100_mean_rounds, acc100_retain, acc100_val, acc100_forget_rounds, acc100_forget)
ax = px_axes(fig, 120, tops[2], 395, bottoms[2])
acc_panel(ax, acc150_band_rounds, acc150_retain_runs, acc150_val_runs, acc150_run_rounds, acc150_forget_runs,
          acc150_mean_rounds, acc150_retain, acc150_val, acc150_forget_rounds, acc150_forget)

# MIA column
ax = px_axes(fig, 467, mia_tops[0], 745, mia_bottoms[0])
mia_panel(ax, mia50_run_rounds, mia50_runs, mia50_rounds, mia50_mean)
ax = px_axes(fig, 467, mia_tops[1], 745, mia_bottoms[1])
mia_panel(ax, mia100_run_rounds, mia100_runs, mia100_rounds, mia100_mean)
ax = px_axes(fig, 467, mia_tops[2], 745, mia_bottoms[2])
mia_panel(ax, mia150_run_rounds, mia150_runs, mia150_rounds, mia150_mean)

# JS divergence column
ax = px_axes(fig, 819, tops[0], 1095, bottoms[0])
js_panel(ax, js50_run_rounds, js50_forget_runs, js50_band_rounds, js50_retain_runs, js50_val_runs,
         js50_forget_rounds, js50_forget, js50_mean_rounds, js50_retain, js50_val, "upper right")
ax = px_axes(fig, 819, tops[1], 1095, bottoms[1])
js_panel(ax, js100_run_rounds, js100_forget_runs, js100_band_rounds, js100_retain_runs, js100_val_runs,
         js100_forget_rounds, js100_forget, js100_mean_rounds, js100_retain, js100_val, "center")
ax = px_axes(fig, 819, tops[2], 1095, bottoms[2])
js_panel(ax, js150_run_rounds, js150_forget_runs, js150_band_rounds, js150_retain_runs, js150_val_runs,
         js150_forget_rounds, js150_forget, js150_mean_rounds, js150_retain, js150_val, "center")

fig.savefig("out.png", dpi=100)
